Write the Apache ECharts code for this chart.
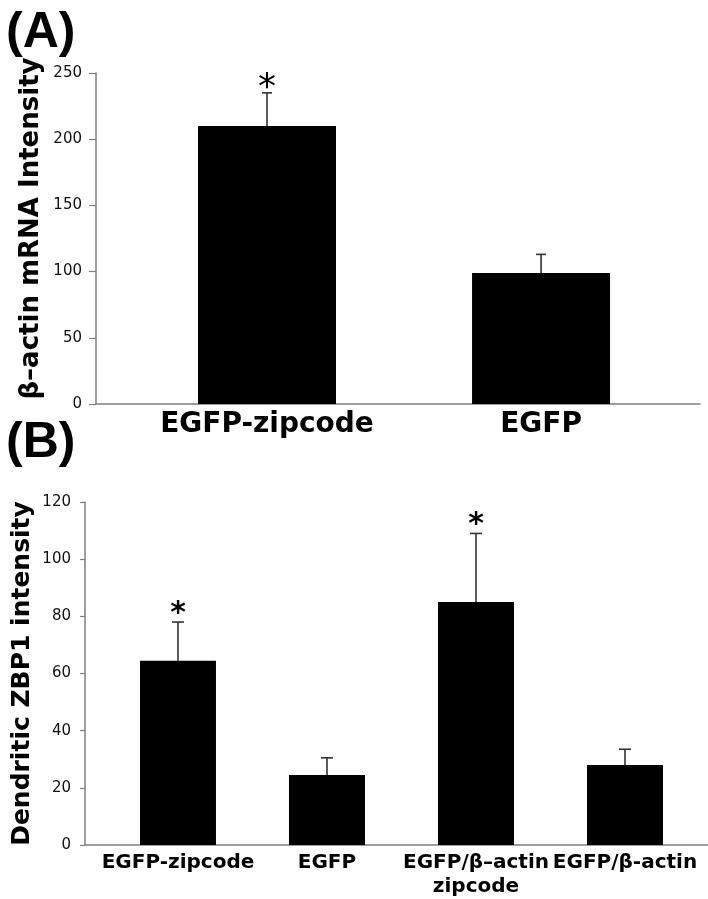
<!DOCTYPE html>
<html><head><meta charset="utf-8">
<script src="https://cdn.jsdelivr.net/npm/echarts@6/dist/echarts.min.js"></script>
<style>html,body{margin:0;padding:0;background:#fff}#c{width:708px;height:899px}</style>
</head><body><div id="c"></div>
<script>
// Panel A
const catsA = ['EGFP-zipcode', 'EGFP'];
const meanA = [210, 99];
const errA = [25, 14];
const sigA = [1, 0];
const yTicksA = [0, 50, 100, 150, 200, 250];
// Panel B
const catsB = ['EGFP-zipcode', 'EGFP', 'EGFP/β–actin\nzipcode', 'EGFP/β-actin'];
const meanB = [64.5, 24.5, 85, 28];
const errB = [13.5, 6, 24, 5.5];
const sigB = [1, 0, 1, 0];
const yTicksB = [0, 20, 40, 60, 80, 100, 120];

const FONT = "'DejaVu Sans', Verdana, sans-serif";
const axisGray = '#7f7f7f';

function errItem(capW, starFont, starGap) {
  return function (params, api) {
    const x = api.value(0), m = api.value(1), e = api.value(2), s = api.value(3);
    const p0 = api.coord([x, m]);
    const p1 = api.coord([x, m + e]);
    const children = [
      { type: 'line', shape: { x1: p0[0], y1: p0[1], x2: p1[0], y2: p1[1] }, style: { stroke: '#333', lineWidth: 1.6 } },
      { type: 'line', shape: { x1: p1[0] - capW / 2, y1: p1[1], x2: p1[0] + capW / 2, y2: p1[1] }, style: { stroke: '#333', lineWidth: 1.6 } }
    ];
    if (s) {
      children.push({ type: 'text', x: p1[0], y: p1[1] - starGap,
        style: { text: '*', font: starFont, fill: '#000', align: 'center', verticalAlign: 'middle' } });
    }
    return { type: 'group', children };
  };
}

function xAxisCfg(gridIndex, cats, min, max, fontSize, margin, lineHeight) {
  return {
    type: 'value', gridIndex, min, max,
    splitLine: { show: false },
    axisLine: { show: true, onZero: false, lineStyle: { color: axisGray, width: 1.5 } },
    axisTick: { show: false },
    axisLabel: {
      customValues: cats.map((c, i) => i),
      formatter: v => cats[Math.round(v)] || '',
      color: '#000', fontFamily: FONT, fontWeight: 'bold', fontSize, margin, lineHeight
    }
  };
}
function yAxisCfg(gridIndex, ticks, name, nameGap, tickLen, nameSize, namePad) {
  return {
    type: 'value', gridIndex, min: ticks[0], max: ticks[ticks.length - 1],
    interval: ticks[1] - ticks[0],
    splitLine: { show: false },
    axisLine: { show: true, onZero: false, lineStyle: { color: axisGray, width: 1.5 } },
    axisTick: { show: true, length: tickLen, lineStyle: { color: axisGray, width: 1.2 } },
    axisLabel: { color: '#111', fontFamily: FONT, fontSize: 15, margin: 14 },
    name, nameLocation: 'middle', nameRotate: 90, nameGap, nameMoveOverlap: false,
    nameTextStyle: { color: '#000', fontFamily: FONT, fontWeight: 'bold', fontSize: nameSize, padding: namePad }
  };
}

const chart = echarts.init(document.getElementById('c'), null, { renderer: 'canvas' });
chart.setOption({
  animation: false,
  backgroundColor: '#fff',
  grid: [
    { left: 96, top: 73, width: 604, height: 331, outerBoundsMode: 'none', containLabel: false },
    { left: 85, top: 502, width: 623, height: 343, outerBoundsMode: 'none', containLabel: false }
  ],
  xAxis: [
    xAxisCfg(0, catsA, -0.624, 1.58, 28, 5, 32),
    xAxisCfg(1, catsB, -0.624, 3.557, 20, 6, 24)
  ],
  yAxis: [
    yAxisCfg(0, yTicksA, 'β–actin mRNA Intensity', 52, 7, 26, [0, 0, 0, 20]),
    yAxisCfg(1, yTicksB, 'Dendritic ZBP1 intensity', 50, 5, 25, 0)
  ],
  graphic: [
    { type: 'text', left: 6, top: 8, style: { text: '(A)', font: "bold 50px 'Liberation Sans'", fill: '#000' } },
    { type: 'text', left: 6, top: 418, style: { text: '(B)', font: "bold 50px 'Liberation Sans'", fill: '#000' } }
  ],
  series: [
    { type: 'bar', xAxisIndex: 0, yAxisIndex: 0, barWidth: 138,
      itemStyle: { color: '#000' },
      data: meanA.map((v, i) => [i, v]) },
    { type: 'custom', xAxisIndex: 0, yAxisIndex: 0, clip: false,
      renderItem: errItem(10, "36px 'DejaVu Sans'", 4),
      encode: { x: 0, y: 1 },
      data: meanA.map((v, i) => [i, v, errA[i], sigA[i]]) },
    { type: 'bar', xAxisIndex: 1, yAxisIndex: 1, barWidth: 76,
      itemStyle: { color: '#000' },
      data: meanB.map((v, i) => [i, v]) },
    { type: 'custom', xAxisIndex: 1, yAxisIndex: 1, clip: false,
      renderItem: errItem(12, "bold 30px 'DejaVu Sans'", 8),
      encode: { x: 0, y: 1 },
      data: meanB.map((v, i) => [i, v, errB[i], sigB[i]]) }
  ]
});
</script>
</body></html>
